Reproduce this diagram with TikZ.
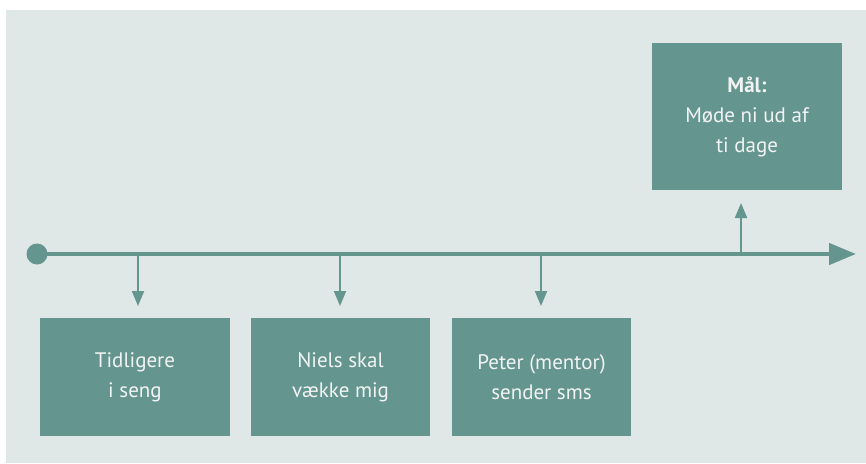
\documentclass[tikz,border=0pt]{standalone}
\usepackage{fontspec}
\setmainfont{PT Sans}
\usetikzlibrary{arrows.meta}
\definecolor{panel}{HTML}{DFE8E7}
\definecolor{teal}{HTML}{64958F}
\definecolor{boxtext}{HTML}{F2F4F3}
\tikzset{
  stepbox/.style={fill=teal, draw=none, text=boxtext, minimum width=190pt, minimum height=118pt,
    inner sep=0pt, align=center, font=\fontsize{21}{30}\selectfont},
  marker/.style={teal, line width=2pt, -{Triangle[length=15pt,width=12pt]}},
  axis/.style={teal, line width=4.5pt, -{Triangle[length=27pt,width=21pt]}}
}
\begin{document}
\begin{tikzpicture}[x=1pt,y=-1pt]
  \useasboundingbox (0,0) rectangle (866,463);
  \fill[white] (0,0) rectangle (866,463);
  \fill[panel] (6,10) rectangle (866,463);

  % steps below the time line
  \node[stepbox] (s1) at (135,377) {Tidligere\\i seng};
  \node[stepbox, minimum width=179pt] (s2) at (340.5,377) {Niels skal\\vække mig};
  \node[stepbox, minimum width=179pt] (s3) at (541.5,377) {Peter (mentor)\\sender sms};

  % goal above the time line
  \node[stepbox, minimum height=147pt] (goal) at (747,116.5) {\textbf{Mål:}\\Møde ni ud af\\ti dage};

  % time line
  \coordinate (start) at (37,254);
  \coordinate (end) at (856,254);
  \draw[axis] (start) -- (end);
  \fill[teal] (start) circle (10.5);

  \coordinate (t1) at (138,254);
  \coordinate (t2) at (340,254);
  \coordinate (t3) at (541,254);
  \coordinate (t4) at (741,254);
  \draw[marker] (t1) -- (138,306);
  \draw[marker] (t2) -- (340,306);
  \draw[marker] (t3) -- (541,306);
  \draw[marker] (t4) -- (741,203);
\end{tikzpicture}
\end{document}
